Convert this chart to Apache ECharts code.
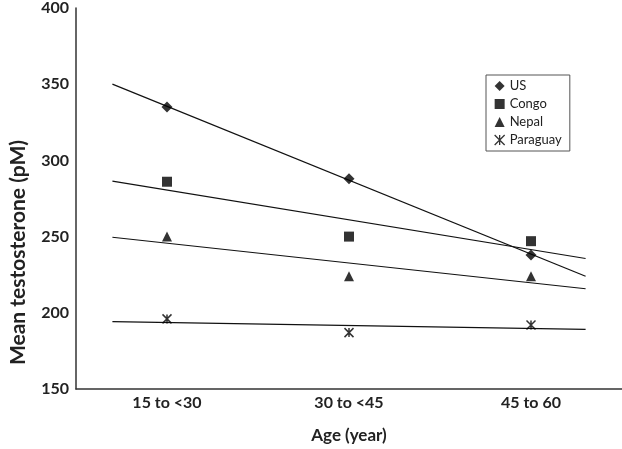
<!DOCTYPE html>
<html>
<head>
<meta charset="utf-8">
<script src="https://cdn.jsdelivr.net/npm/echarts@6/dist/echarts.min.js"></script>
<style>
html, body { margin: 0; padding: 0; background: #fff; }
#chart { width: 622px; height: 449px; }
</style>
</head>
<body>
<div id="chart"></div>
<script>
// mean testosterone by age group, with linear trend lines
var categories = ['15 to <30', '30 to <45', '45 to 60'];
var usVals = [335, 288, 238];
var congoVals = [286, 250, 247];
var nepalVals = [250, 224, 224];
var paraguayVals = [196, 187, 192];
var names = ['US', 'Congo', 'Nepal', 'Paraguay'];

var starPath = 'path://M0,0L10,10M10,0L0,10M5,0L5,10';
var font = 'Lato, "Open Sans", sans-serif';

// least squares fit over x = 0,1,2, drawn a little past both ends
function trend(vals) {
	var n = vals.length, sx = 0, sy = 0, sxy = 0, sxx = 0;
	for (let i = 0; i < n; i++) {
		sx += i; sy += vals[i]; sxy += i * vals[i]; sxx += i * i;
	}
	var b = (n * sxy - sx * sy) / (n * sxx - sx * sx);
	var a = (sy - b * sx) / n;
	return [[-0.3, a - 0.3 * b], [n - 0.7, a + (n - 0.7) * b]];
}

var myChart = echarts.init(document.getElementById('chart'));

function scatter(name, vals, symbol, size, style) {
	return {
		name: name, type: 'scatter', xAxisIndex: 0, yAxisIndex: 0,
		symbol: symbol, symbolSize: size, data: vals,
		itemStyle: style, z: 5
	};
}
function fitLine(vals) {
	return {
		type: 'line', xAxisIndex: 1, yAxisIndex: 0, data: trend(vals),
		symbol: 'none', silent: true,
		lineStyle: { color: '#111', width: 1.2 }
	};
}

var option = {
	animation: false,
	grid: { left: 57, top: 6, right: -5, bottom: 50 },
	legend: {
		orient: 'vertical', left: 486, top: 75,
		padding: [4, 8, 4, 8],
		itemWidth: 10, itemHeight: 10, itemGap: 4,
		borderColor: '#555', borderWidth: 1,
		textStyle: { fontFamily: font, fontSize: 13, color: '#222', lineHeight: 14 },
		data: [
			{ name: 'US', icon: 'diamond' },
			{ name: 'Congo', icon: 'rect' },
			{ name: 'Nepal', icon: 'triangle' },
			{ name: 'Paraguay', icon: starPath, itemStyle: { color: 'transparent', borderColor: '#000', borderWidth: 1.3 } }
		]
	},
	xAxis: [
		{
			type: 'category', data: categories, boundaryGap: true,
			name: 'Age (year)', nameLocation: 'middle', nameGap: 38,
			nameTextStyle: { fontFamily: font, fontSize: 17, fontWeight: 'bold', color: '#222' },
			axisLine: { onZero: false, lineStyle: { color: '#333', width: 1.5 } },
			axisTick: { show: false },
			axisLabel: { fontFamily: font, fontSize: 16, fontWeight: 'bold', color: '#222', margin: 6 },
			splitLine: { show: false }
		},
		{
			type: 'value', min: -0.5, max: 2.5, show: false
		}
	],
	yAxis: {
		type: 'value', min: 150, max: 400, interval: 50,
		name: 'Mean testosterone (pM)', nameLocation: 'middle', nameGap: 47,
		nameTextStyle: { fontFamily: font, fontSize: 21, fontWeight: 'bold', color: '#222', padding: [0, 108, 0, 0] },
		axisLine: { show: true, onZero: false, lineStyle: { color: '#333', width: 1.5 } },
		axisTick: { show: false },
		axisLabel: { fontFamily: font, fontSize: 16, fontWeight: 'bold', color: '#222', margin: 7 },
		splitLine: { show: false }
	},
	series: [
		scatter(names[0], usVals, 'diamond', 11, { color: '#000' }),
		scatter(names[1], congoVals, 'rect', 10, { color: '#000' }),
		scatter(names[2], nepalVals, 'triangle', 10, { color: '#000' }),
		scatter(names[3], paraguayVals, starPath, 9, { color: 'transparent', borderColor: '#000', borderWidth: 1.5 }),
		fitLine(usVals),
		fitLine(congoVals),
		fitLine(nepalVals),
		fitLine(paraguayVals)
	]
};
option && myChart.setOption(option);
</script>
</body>
</html>
